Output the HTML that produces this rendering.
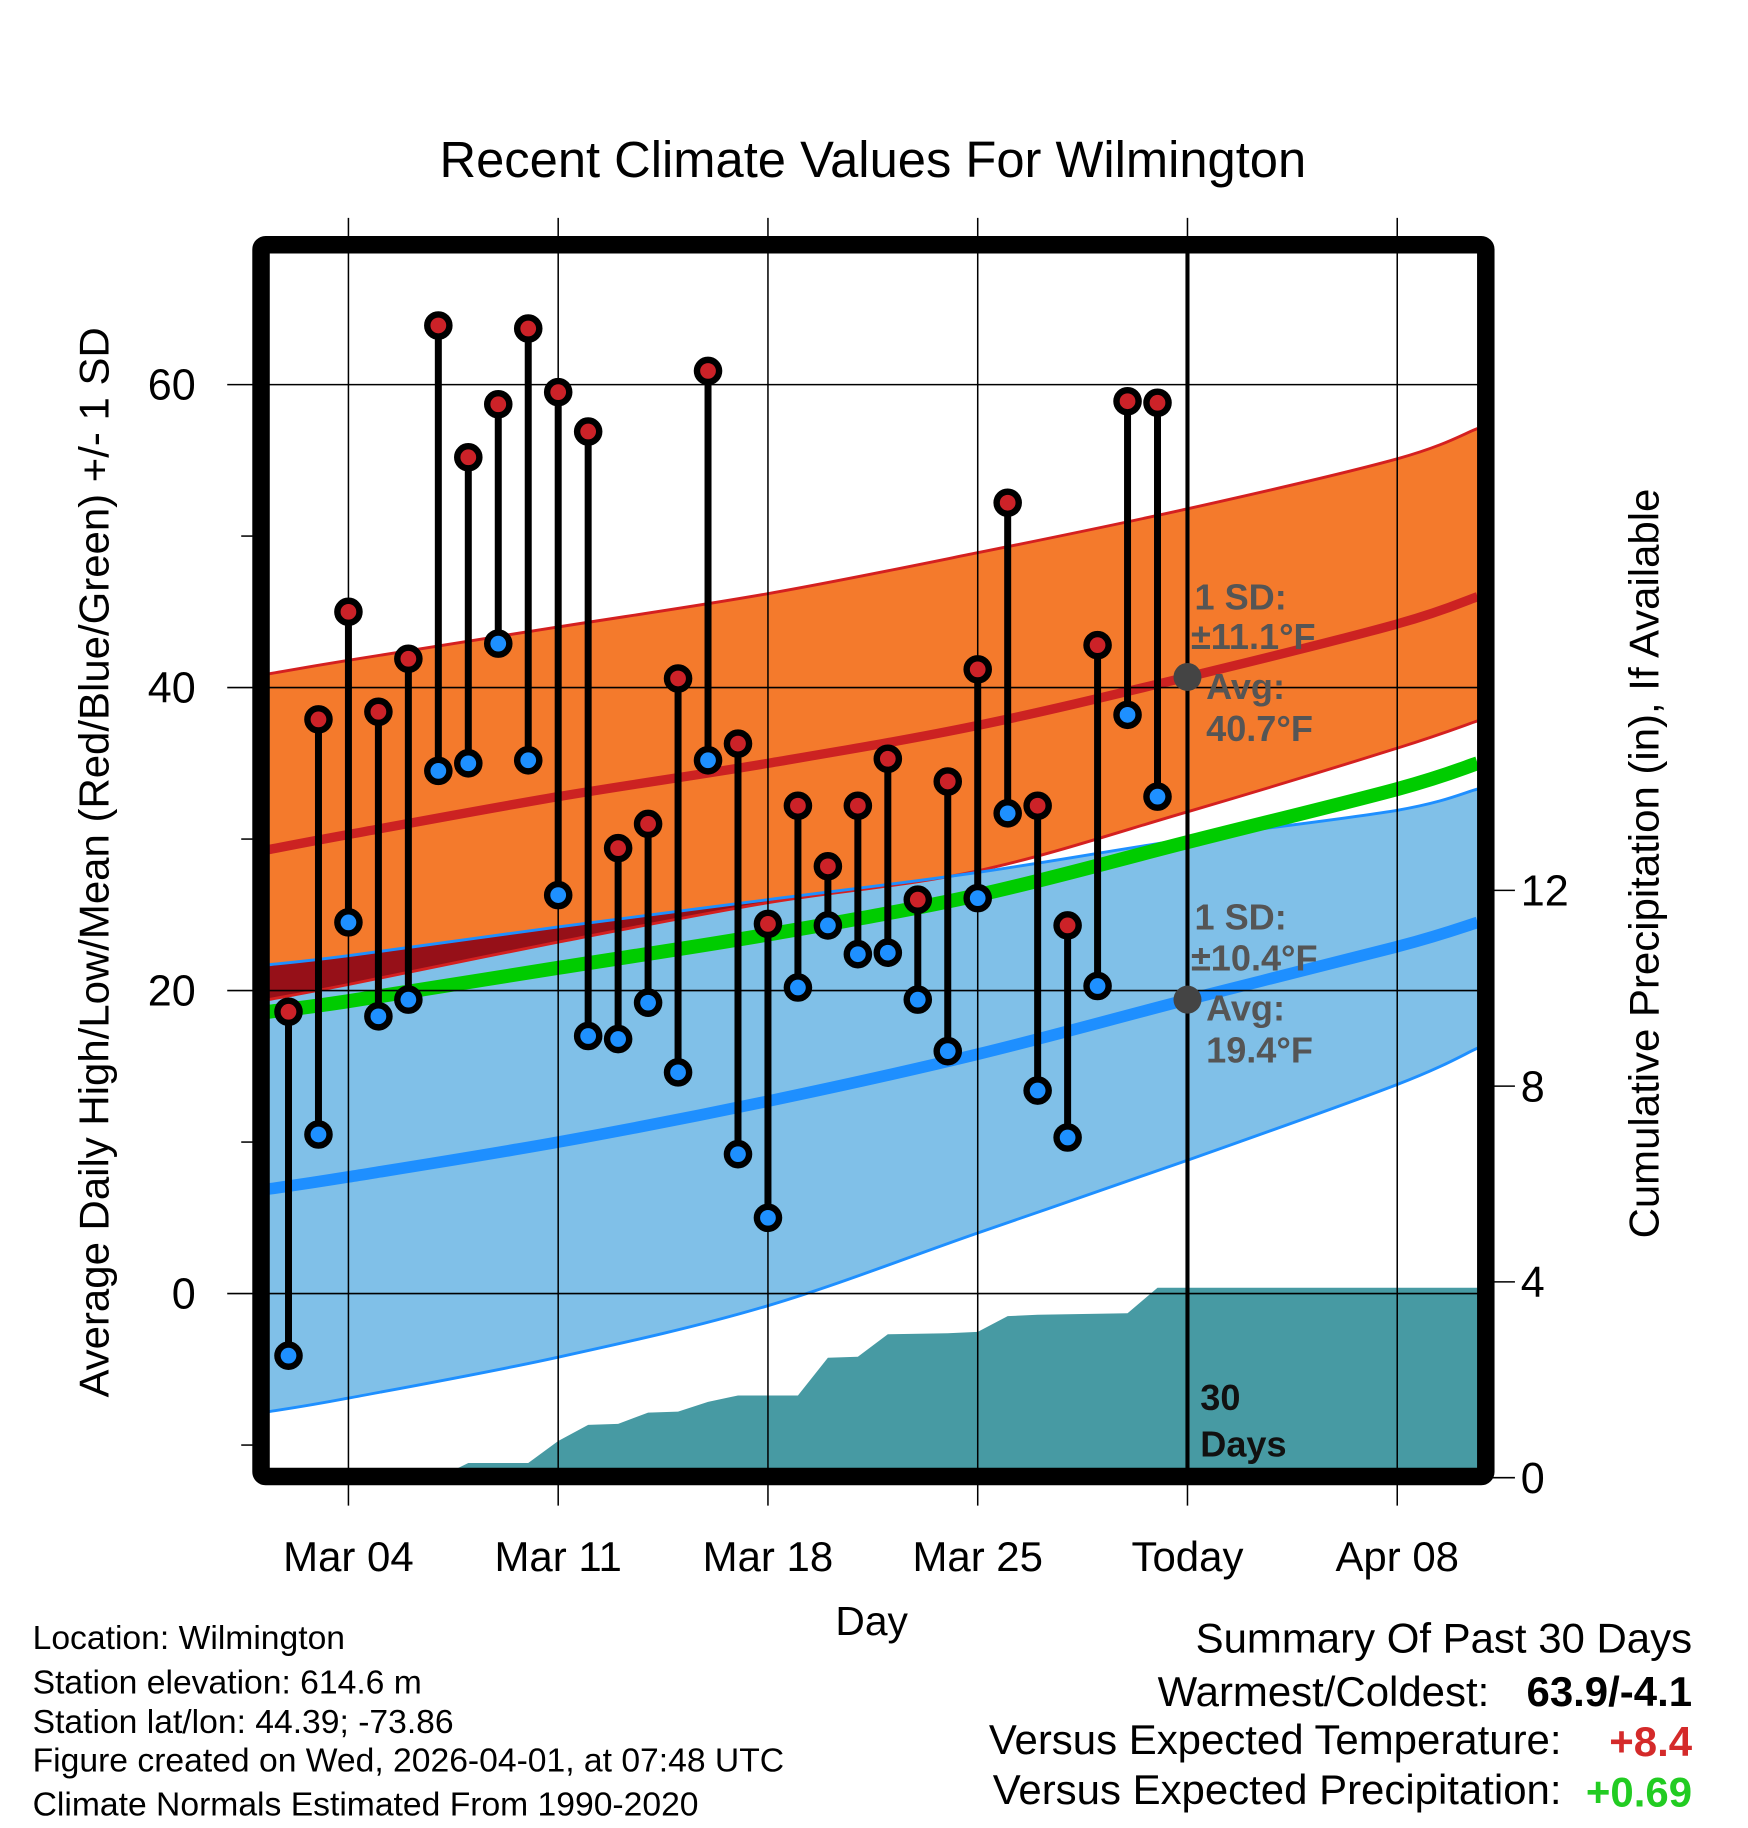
<!DOCTYPE html>
<html><head><meta charset="utf-8"><style>
html,body{margin:0;padding:0;background:#fff;}
svg{display:block;font-family:"Liberation Sans",Arial,sans-serif;}
</style></head><body>
<svg id="chart" width="1748" height="1828" viewBox="0 0 1500 1568.6" preserveAspectRatio="none" xmlns="http://www.w3.org/2000/svg">
<defs>
<clipPath id="plotclip"><rect x="231" y="217" width="1037" height="1043"/></clipPath>
</defs>
<rect width="1500" height="1568.6" fill="#fff"/>
<text x="749" y="152" font-size="43.5" text-anchor="middle">Recent Climate Values For Wilmington</text>
<g id="bands" clip-path="url(#plotclip)"></g>
<g id="grid"></g>
<g id="marks" clip-path="url(#plotclip)"></g>
<g id="axes"></g>
<rect x="224" y="210" width="1051" height="1057" fill="none" stroke="#000" stroke-width="15" rx="4"/>
<text transform="translate(93,740) rotate(-90)" font-size="36" text-anchor="middle">Average Daily High/Low/Mean (Red/Blue/Green) +/- 1 SD</text>
<text transform="translate(1423,741) rotate(-90)" font-size="36" text-anchor="middle">Cumulative Precipitation (in), If Available</text>
<text x="748" y="1403" font-size="35" text-anchor="middle">Day</text>
<g font-size="28.9">
<text x="28" y="1415">Location: Wilmington</text>
<text x="28" y="1453">Station elevation: 614.6 m</text>
<text x="28" y="1487">Station lat/lon: 44.39; -73.86</text>
<text x="28" y="1520">Figure created on Wed, 2026-04-01, at 07:48 UTC</text>
<text x="28" y="1558">Climate Normals Estimated From 1990-2020</text>
</g>
<g font-size="36">
<text x="1452" y="1418" text-anchor="end">Summary Of Past 30 Days</text>
<text x="1278" y="1464" text-anchor="end">Warmest/Coldest:</text>
<text x="1452" y="1464" text-anchor="end" font-weight="bold">63.9/-4.1</text>
<text x="1340" y="1505" text-anchor="end">Versus Expected Temperature:</text>
<text x="1452" y="1507" text-anchor="end" font-weight="bold" fill="#d42a2a">+8.4</text>
<text x="1340" y="1548" text-anchor="end">Versus Expected Precipitation:</text>
<text x="1452" y="1550" text-anchor="end" font-weight="bold" fill="#22cc22">+0.69</text>
</g>
</svg>
<script>
// Observed data: days of March
const obsDays = [2,3,4,5,6,7,8,9,10,11,12,13,14,15,16,17,18,19,20,21,22,23,24,25,26,27,28,29,30,31];
const highs = [18.6,37.9,45.0,38.4,41.9,63.9,55.2,58.7,63.7,59.5,56.9,29.4,31.0,40.6,60.9,36.3,24.4,32.2,28.2,32.2,35.3,26.0,33.8,41.2,52.2,32.2,24.3,42.8,58.9,58.8];
const lows = [-4.1,10.5,24.5,18.3,19.4,34.5,35.0,42.9,35.2,26.3,17.0,16.8,19.2,14.6,35.2,9.2,5.0,20.2,24.3,22.4,22.5,19.4,16.0,26.1,31.7,13.4,10.3,20.3,38.2,32.8];
// Normals sampled at day-of-March positions
const normDays = [1.33,4,11,18,25,32,39,41.68];
const normHighUpper = [40.9,41.8,44.0,46.2,48.9,51.8,55.1,57.1];
const normHighMean = [29.3,30.3,32.8,35.0,37.5,40.7,44.2,46.0];
const normHighLower = [19.4,20.4,23.2,25.8,27.9,31.8,36.0,37.8];
const normLowUpper = [21.7,22.3,24.2,26.0,27.8,30.0,31.9,33.3];
const normLowMean = [6.9,7.7,10.0,12.7,15.8,19.4,22.9,24.5];
const normLowLower = [-7.8,-6.9,-4.2,-0.8,4.0,8.8,13.8,16.2];
const normMean = [18.6,19.3,21.5,23.7,26.3,29.8,33.3,35.0];
// Cumulative precipitation (in)
const precipDays = [1.33,7,8,10,11,12,13,14,15,16,17,19,20,21,22,24,25,26,27,30,31,41.68];
const precipVals = [0,0,0.3,0.3,0.75,1.08,1.1,1.33,1.35,1.55,1.68,1.68,2.45,2.47,2.93,2.95,2.98,3.3,3.33,3.36,3.88,3.88];
const xTickDays = [4,11,18,25,32,39];
const xTickLabels = ["Mar 04","Mar 11","Mar 18","Mar 25","Today","Apr 08"];
const yTicks = [0,20,40,60];
const yMinor = [-10,10,30,50];
const y2Ticks = [0,4,8,12];

const NS="http://www.w3.org/2000/svg";
const X = d => 299 + (d-4)*(180/7);
const Y = t => 1110 - t*13;
const Y2 = p => 1268 - p*42;
function mk(tag, attrs, parent){const e=document.createElementNS(NS,tag);for(const k in attrs)e.setAttribute(k,attrs[k]);parent.appendChild(e);return e;}
const bands=document.getElementById('bands'), grid=document.getElementById('grid'), marks=document.getElementById('marks'), axes=document.getElementById('axes');
function curvePts(arr){return normDays.map((d,i)=>[X(d),Y(arr[i])]);}
function smooth(p, move){
  let s = (move?'M':'L')+p[0][0].toFixed(1)+','+p[0][1].toFixed(1);
  for(let i=0;i<p.length-1;i++){
    const p0=p[Math.max(0,i-1)],p1=p[i],p2=p[i+1],p3=p[Math.min(p.length-1,i+2)];
    const c1=[p1[0]+(p2[0]-p0[0])/6,p1[1]+(p2[1]-p0[1])/6];
    const c2=[p2[0]-(p3[0]-p1[0])/6,p2[1]-(p3[1]-p1[1])/6];
    s+=' C'+c1.map(v=>v.toFixed(1))+' '+c2.map(v=>v.toFixed(1))+' '+p2[0].toFixed(1)+','+p2[1].toFixed(1);
  }
  return s;
}
const bandPath=(up,lo)=>smooth(curvePts(up),true)+' '+smooth(curvePts(lo).reverse(),false)+' Z';

let pp = precipDays.map((d,i)=>X(d)+','+Y2(precipVals[i]));
let el = mk('polygon',{points: pp.join(' ')+' '+X(41.68)+',1268 '+X(1.33)+',1268', fill:'#479aa3'},bands);


const lowD = bandPath(normLowUpper,normLowLower);
el = mk('path',{d: lowD, fill:'#80c0e8'},bands);


const highD = bandPath(normHighUpper,normHighLower);
el = mk('path',{d: highD, fill:'#f47a2c'},bands);


const cp = mk('clipPath',{id:'lowclip'},document.querySelector('defs'));
mk('path',{d: lowD},cp);
el = mk('path',{d: highD, fill:'#961018','clip-path':'url(#lowclip)'},bands);


[[normHighUpper,'#d42020',2.5,'high-upper-edge'],[normHighLower,'#d42020',2.5,'high-lower-edge'],[normLowUpper,'#1e8fff',2.5,'low-upper-edge'],[normLowLower,'#1e8fff',2.5,'low-lower-edge'],[normLowMean,'#1e8fff',10,'low-mean-line'],[normHighMean,'#cc2222',8,'high-mean-line'],[normMean,'#00cc00',12,'mean-line']].forEach(a=>{
  const l = mk('path',{d: smooth(curvePts(a[0]),true), fill:'none', stroke:a[1], 'stroke-width':a[2]},bands);
  
  
});
xTickDays.forEach((d,i)=>{
  const g = mk('line',{x1:X(d),x2:X(d),y1:187,y2:1292,stroke:'#000','stroke-width':1.3},grid);
  
  
  const t = mk('text',{x:X(d),y:1348,'font-size':36,'text-anchor':'middle'},axes);
  t.textContent = xTickLabels[i];
  
  
});
yTicks.forEach(v=>{
  const g = mk('line',{x1:195,x2:1268,y1:Y(v),y2:Y(v),stroke:'#000','stroke-width':1.3},grid);
  
  
  const t = mk('text',{x:168,y:Y(v)+13,'font-size':37,'text-anchor':'end'},axes);
  t.textContent = v;
  
  
});
yMinor.forEach(v=>{
  const g = mk('line',{x1:207,x2:220,y1:Y(v),y2:Y(v),stroke:'#000','stroke-width':1.3},grid);
  
  
});
y2Ticks.forEach(v=>{
  const g = mk('line',{x1:1275,x2:1300,y1:Y2(v),y2:Y2(v),stroke:'#000','stroke-width':1.3},axes);
  
  
  const t = mk('text',{x:1305,y:Y2(v)+13,'font-size':37},axes);
  t.textContent = v;
  
  
});
el = mk('line',{x1:X(32),x2:X(32),y1:217,y2:1262,stroke:'#000','stroke-width':3.5},marks);


obsDays.forEach((d,i)=>{
  const s = mk('line',{x1:X(d),x2:X(d),y1:Y(highs[i]),y2:Y(lows[i]),stroke:'#000','stroke-width':6},marks);
  
  
});
obsDays.forEach((d,i)=>{
  const h = mk('circle',{cx:X(d),cy:Y(highs[i]),r:9.5,fill:'#cc2228',stroke:'#000','stroke-width':5.5},marks);
  
  
  const l = mk('circle',{cx:X(d),cy:Y(lows[i]),r:9.5,fill:'#1e90ff',stroke:'#000','stroke-width':5.5},marks);
  
  
});
const hm = normHighMean[5], lm = normLowMean[5];
[[hm,'high-avg-marker'],[lm,'low-avg-marker']].forEach(a=>{
  const c = mk('circle',{cx:X(32),cy:Y(a[0]),r:12,fill:'#444'},marks);
  
  
});
const ann = [["1 SD:",1025,Y(hm)-58],["\u00b111.1\u00b0F",1022,Y(hm)-24],["Avg:",1035,Y(hm)+19],["40.7\u00b0F",1035,Y(hm)+55],
             ["1 SD:",1025,Y(lm)-60],["\u00b110.4\u00b0F",1022,Y(lm)-25],["Avg:",1035,Y(lm)+18],["19.4\u00b0F",1035,Y(lm)+54]];
ann.forEach(a=>{
  const t = mk('text',{x:a[1],y:a[2],'font-size':31,'font-weight':'bold',fill:'#555'},marks);
  t.textContent=a[0];
  
  
});
[["30",1030,1210],["Days",1030,1250]].forEach(a=>{
  const t = mk('text',{x:a[1],y:a[2],'font-size':31,'font-weight':'bold',fill:'#111'},marks);
  t.textContent=a[0];
  
  
});
</script>
</body></html>
